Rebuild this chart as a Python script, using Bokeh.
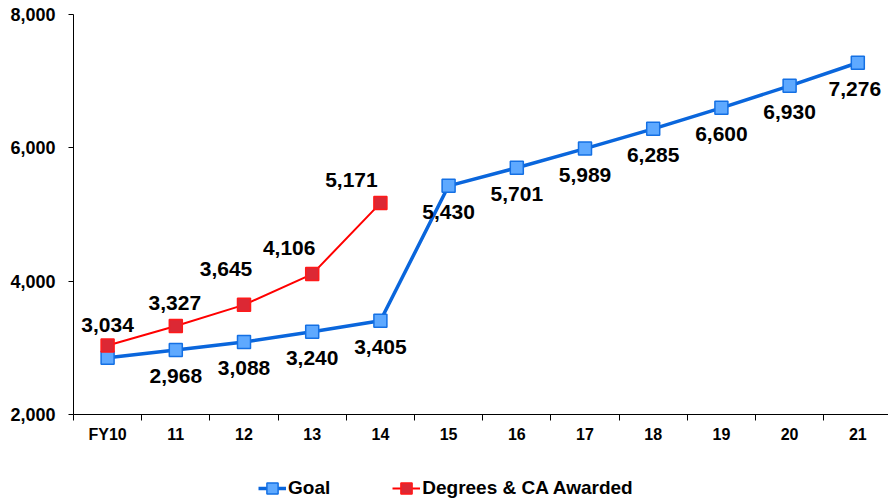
from bokeh.plotting import figure
from bokeh.layouts import column
from bokeh.models import (FixedTicker, Range1d, Legend, LegendItem, ColumnDataSource,
                          NumeralTickFormatter)
from bokeh.core.properties import value
from bokeh.embed import file_html
from bokeh.resources import INLINE

# ---- data ----
categories = ["FY10", "11", "12", "13", "14", "15", "16", "17", "18", "19", "20", "21"]
goal = [2850, 2968, 3088, 3240, 3405, 5430, 5701, 5989, 6285, 6600, 6930, 7276]
awarded = [3034, 3327, 3645, 4106, 5171]
y_ticks = [2000, 4000, 6000, 8000]
series_names = ["Goal", "Degrees & CA Awarded"]

FONT = value("Liberation Sans")
BLUE_LINE = "#0A66DC"
BLUE_FILL = "#5EA9FF"
BLUE_EDGE = "#1470E4"
RED_LINE = "#FF0000"
RED_FILL = "#DC2834"
RED_EDGE = "#FF1A1A"

x_goal = [i + 0.5 for i in range(len(goal))]
x_aw = [i + 0.5 for i in range(len(awarded))]
series_x = [x_goal, x_aw]
series_y = [goal, awarded]

p = figure(width=888, height=450, output_backend="svg", toolbar_location=None,
           x_range=Range1d(0, 11.95), y_range=Range1d(2000, 8000),
           min_border_left=73, min_border_right=0, min_border_top=14, min_border_bottom=36)
p.outline_line_color = None
p.grid.visible = False

# y axis
ya = p.yaxis[0]
ya.ticker = FixedTicker(ticks=y_ticks, minor_ticks=[])
ya.formatter = NumeralTickFormatter(format="0,0")
ya.major_tick_out = 5
ya.major_tick_in = 0
ya.minor_tick_line_color = None
ya.axis_line_color = "black"
ya.major_tick_line_color = "black"
ya.major_label_text_font = "Liberation Sans"
ya.major_label_text_font_style = "bold"
ya.major_label_text_font_size = "18px"
ya.major_label_text_color = "black"
ya.major_label_standoff = 13

# x axis: labels at centres, ticks at boundaries
xa = p.xaxis[0]
xa.ticker = FixedTicker(ticks=x_goal, minor_ticks=list(range(len(categories) + 1)))
xa.major_label_overrides = {x: c for x, c in zip(x_goal, categories)}
xa.major_tick_line_color = None
xa.major_tick_out = 0
xa.major_tick_in = 0
xa.minor_tick_out = 6
xa.minor_tick_in = 0
xa.minor_tick_line_color = "black"
xa.axis_line_color = "black"
xa.major_label_text_font = "Liberation Sans"
xa.major_label_text_font_style = "bold"
xa.major_label_text_font_size = "16px"
xa.major_label_text_color = "black"
xa.major_label_standoff = 5

# series
line_styles = [dict(line_color=BLUE_LINE, line_width=3.5), dict(line_color=RED_LINE, line_width=2)]
marker_styles = [dict(marker="square", size=13, fill_color=BLUE_FILL, line_color=BLUE_EDGE, line_width=1.5),
                 dict(marker="square", size=13, fill_color=RED_FILL, line_color=RED_EDGE, line_width=1.5)]

for sx, sy, ls in zip(series_x, series_y, line_styles):
    p.line(sx, sy, **ls)
for sx, sy, ms in zip(series_x, series_y, marker_styles):
    p.scatter(sx, sy, **ms)

# data labels
g_src = ColumnDataSource(dict(
    x=x_goal[1:], y=goal[1:], t=[f"{v:,}" for v in goal[1:]],
    dx=[0] * 10 + [-3], dy=[26] * 11))
p.text(x="x", y="y", text="t", x_offset="dx", y_offset="dy", source=g_src,
       text_font=FONT, text_font_style="bold", text_font_size="21px",
       text_align="center", text_baseline="middle", text_color="black")

a_src = ColumnDataSource(dict(
    x=x_aw, y=awarded, t=[f"{v:,}" for v in awarded],
    dx=[0, -1, -18, -23, -29], dy=[-21, -23, -36, -26, -23]))
p.text(x="x", y="y", text="t", x_offset="dx", y_offset="dy", source=a_src,
       text_font=FONT, text_font_style="bold", text_font_size="21px",
       text_align="center", text_baseline="middle", text_color="black")

# legend strip below the chart (series re-plotted here outside the visible range,
# only so the legend has glyphs to draw)
lg = figure(width=888, height=51, output_backend="svg", toolbar_location=None,
            x_range=Range1d(0, 1), y_range=Range1d(0, 1),
            min_border_left=0, min_border_right=0, min_border_top=0, min_border_bottom=0)
lg.axis.visible = False
lg.grid.visible = False
lg.outline_line_color = None
items = []
for name, sx, sy, ls, ms in zip(series_names, series_x, series_y, line_styles, marker_styles):
    r1 = lg.line(sx, sy, **ls)
    r2 = lg.scatter(sx, sy, **ms)
    items.append(LegendItem(label=name, renderers=[r1, r2]))

legend = Legend(items=items, orientation="horizontal", location=(185, -2),
                glyph_width=28, glyph_height=30, label_height=30, label_standoff=2,
                spacing=62, padding=0, margin=0,
                border_line_color=None, background_fill_alpha=0,
                label_text_font="Liberation Sans", label_text_font_style="bold",
                label_text_font_size="19px", label_text_color="black")
lg.add_layout(legend, "center")

layout = column(p, lg, spacing=0)
open("out.html", "w").write(file_html(layout, INLINE))
